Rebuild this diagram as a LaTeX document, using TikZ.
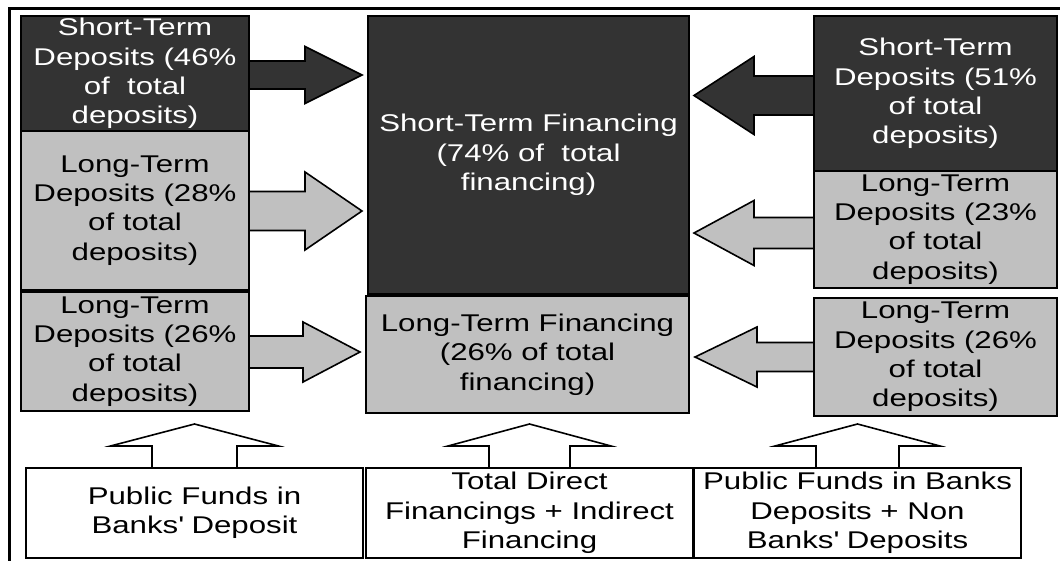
\documentclass[tikz,border=0pt]{standalone}
\usepackage{fontspec}
\setmainfont{Liberation Sans}[FakeStretch=1.29]
\usetikzlibrary{calc,backgrounds}
\definecolor{dk}{RGB}{51,51,51}
\definecolor{lg}{RGB}{192,192,192}
% horizontal block arrow: style, start, tip, shaft half, head half, head length (signed)
\newcommand\blockh[6]{%
  \draw[arr,#1] let \p1=(#2), \p2=(#3) in
    ({\x1},{\y1+#4pt}) -- ({\x2-(#6pt)},{\y1+#4pt}) -- ({\x2-(#6pt)},{\y1+#5pt}) -- ({\x2},{\y1})
    -- ({\x2-(#6pt)},{\y1-#5pt}) -- ({\x2-(#6pt)},{\y1-#4pt}) -- ({\x1},{\y1-#4pt});}
% vertical (upward) block arrow
\newcommand\blockv[6]{%
  \draw[arr,#1] let \p1=(#2), \p2=(#3) in
    ({\x1-#4pt},{\y1}) -- ({\x1-#4pt},{\y2-#6pt}) -- ({\x1-#5pt},{\y2-#6pt}) -- ({\x1},{\y2})
    -- ({\x1+#5pt},{\y2-#6pt}) -- ({\x1+#4pt},{\y2-#6pt}) -- ({\x1+#4pt},{\y1});}
\tikzset{
  box/.style={draw=black, line width=2pt, inner sep=0pt, align=center, anchor=north west,
    font=\fontsize{24.2pt}{29.3pt}\selectfont},
  dkbox/.style={box, fill=dk, text=white},
  gybox/.style={box, fill=lg, text=black},
  whbox/.style={box, fill=white, text=black},
  arr/.style={draw=black, line width=1.6pt, line join=miter},
  frame/.style={draw=black, line width=3pt}
}
\begin{document}
\begin{tikzpicture}[x=1pt,y=-1pt]
\useasboundingbox (0,0) rectangle (1060,560);
\draw[frame] (1062,8.5) -- (9,8.5) -- (9,562);

% left column
\node[dkbox, minimum width=228pt, minimum height=115pt] (L1) at (20,15)
  {Short-Term\\Deposits (46\%\\of\ \ total\\deposits)};
\node[gybox, minimum width=228pt, minimum height=159pt] (L2) at (20,130)
  {Long-Term\\Deposits (28\%\\of total\\deposits)};
\node[gybox, minimum width=228pt, minimum height=119pt] (L3) at (20,291)
  {Long-Term\\Deposits (26\%\\of total\\deposits)};

% centre column
\node[dkbox, minimum width=321pt, minimum height=278pt] (C1) at (367,15)
  {Short-Term Financing\\(74\% of\ \ total\\financing)};
\node[gybox, minimum width=323pt, minimum height=117pt] (C2) at (365,295)
  {Long-Term Financing\\(26\% of total\\financing)};

% right column
\node[dkbox, minimum width=243pt, minimum height=155pt] (R1) at (813,15)
  {Short-Term\\Deposits (51\%\\of total\\deposits)};
\node[gybox, minimum width=243pt, minimum height=117pt] (R2) at (813,170)
  {Long-Term\\Deposits (23\%\\of total\\deposits)};
\node[gybox, minimum width=243pt, minimum height=118pt] (R3) at (813,297)
  {Long-Term\\Deposits (26\%\\of total\\deposits)};

% bottom row
\node[whbox, minimum width=337pt, minimum height=90pt] (B1) at (25,467)
  {Public Funds in\\Banks\textquotesingle\ Deposit};
\node[whbox, minimum width=327pt, minimum height=90pt] (B2) at (365,467)
  {Total Direct\\Financings + Indirect\\Financing};
\node[whbox, minimum width=327pt, minimum height=90pt] (B3) at (693,467)
  {Public Funds in Banks\\Deposits + Non\\Banks\textquotesingle\ Deposits};

\begin{scope}[on background layer]
  \fill[white] (0,0) rectangle (1060,560);
  \blockh{fill=dk}{[yshift=-1.5pt]L1.east}{[xshift=-5pt]C1.west}{14}{28.5}{57}
  \blockh{fill=lg}{[yshift=-0.5pt]L2.east}{[xshift=-5pt]C1.west}{19.5}{39}{57}
  \blockh{fill=lg}{[yshift=-0.5pt]L3.east}{[xshift=-5pt]C2.west}{16}{30}{57}
  \blockh{fill=dk}{[yshift=-2pt]R1.west}{[xshift=4pt]C1.east}{19.5}{39}{-60}
  \blockh{fill=lg}{[yshift=-3.5pt]R2.west}{[xshift=4pt]C1.east}{15.5}{32.5}{-60}
  \blockh{fill=lg}{R3.west}{[xshift=5pt]C2.east}{14.5}{30}{-62}
  \blockv{fill=white}{B1.north}{[yshift=-12pt]L3.south}{42.5}{84}{22}
  \blockv{fill=white}{B2.north}{[yshift=-10pt]C2.south}{40.5}{81.5}{22}
  \blockv{fill=white}{B3.north}{[yshift=-7pt]R3.south}{41.5}{82.5}{22}
\end{scope}
\end{tikzpicture}
\end{document}
